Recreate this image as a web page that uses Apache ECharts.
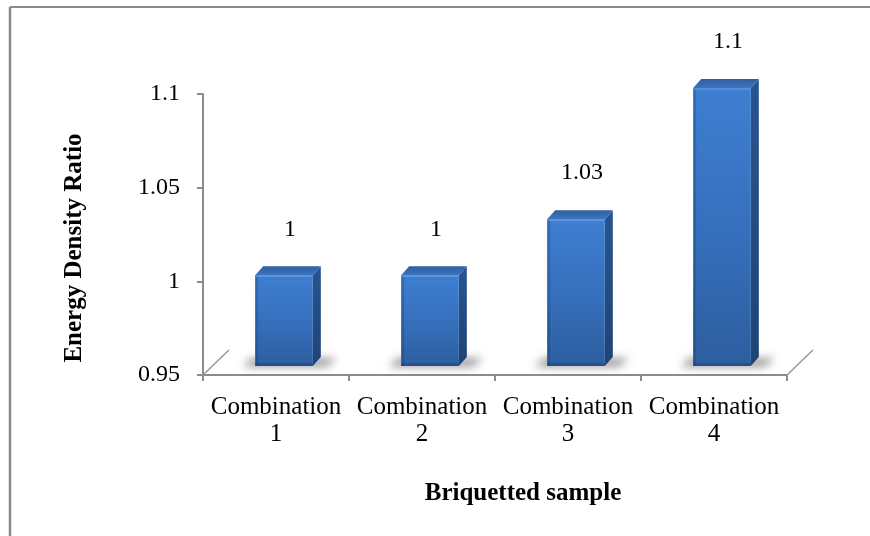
<!DOCTYPE html>
<html>
<head>
<meta charset="utf-8">
<style>
  html, body { margin: 0; padding: 0; background: #fff; }
  #chart { width: 870px; height: 536px; }
</style>
<script src="https://cdn.jsdelivr.net/npm/echarts@6/dist/echarts.min.js"></script>
</head>
<body>
<div id="chart"></div>
<script>
var categories = ['Combination 1', 'Combination 2', 'Combination 3', 'Combination 4'];
var ratioValues = [1, 1, 1.03, 1.1];
var yMin = 0.95;
var yMax = 1.1;
var yStep = 0.05;
var yAxisTitle = 'Energy Density Ratio';
var xAxisTitle = 'Briquetted sample';

var FONT = "'Liberation Serif', 'Times New Roman', serif";
var GRAY = '#8c8c8c';
var SHIFT = 1500;

var chart = echarts.init(document.getElementById('chart'), null, { renderer: 'canvas' });

function renderBar(params, api) {
  var i = api.value(0);
  var v = api.value(1);
  var topPt = api.coord([i, v]);
  var basePt = api.coord([i, yMin]);
  var band = api.size([1, 0])[0];
  var w = band * 0.395;
  var cx = topPt[0] + 8;
  var x0 = cx - w / 2, x1 = cx + w / 2;
  var yT = topPt[1] - 6, yB = basePt[1] - 9;
  var dx = 8, dy = 9;
  var children = [];

  // soft floor shadow (only the blurred shadow is visible; the shape itself sits off-canvas)
  children.push({
    type: 'polygon',
    shape: { points: [[x0 - 12 - SHIFT, yB + 1], [x1 + 14 - SHIFT, yB + 1], [x1 + 24 - SHIFT, yB - 8], [x0 - 4 - SHIFT, yB - 8]] },
    style: { fill: '#000', shadowBlur: 9, shadowOffsetX: SHIFT, shadowOffsetY: 0, shadowColor: 'rgba(0,0,0,0.38)' },
    silent: true
  });
  // side face
  children.push({
    type: 'polygon',
    shape: { points: [[x1, yT], [x1 + dx, yT - dy], [x1 + dx, yB - dy], [x1, yB]] },
    style: {
      fill: new echarts.graphic.LinearGradient(0, 0, 0, 1, [
        { offset: 0, color: '#28548f' },
        { offset: 1, color: '#1f4475' }
      ])
    }
  });
  // top face
  children.push({
    type: 'polygon',
    shape: { points: [[x0, yT], [x0 + dx, yT - dy], [x1 + dx, yT - dy], [x1, yT]] },
    style: {
      fill: new echarts.graphic.LinearGradient(0, 0, 0, 1, [
        { offset: 0, color: '#2f5f9f' },
        { offset: 1, color: '#3d74bf' }
      ])
    }
  });
  // front face
  children.push({
    type: 'rect',
    shape: { x: x0, y: yT, width: w, height: yB - yT },
    style: {
      fill: new echarts.graphic.LinearGradient(0, 0, 0, 1, [
        { offset: 0, color: '#3e7fd1' },
        { offset: 0.5, color: '#3670bd' },
        { offset: 1, color: '#2d5e9f' }
      ])
    }
  });
  // subtle left-edge and bottom shading
  children.push({
    type: 'rect',
    shape: { x: x0, y: yT, width: 3, height: yB - yT },
    style: { fill: 'rgba(20,50,100,0.25)' }
  });
  children.push({
    type: 'rect',
    shape: { x: x0, y: yB - 3, width: w, height: 3 },
    style: { fill: 'rgba(20,50,100,0.3)' }
  });
  // highlight at top front edge
  children.push({
    type: 'line',
    shape: { x1: x0 + 1, y1: yT + 1, x2: x1 - 1, y2: yT + 1 },
    style: { stroke: '#5b95de', lineWidth: 1.5 }
  });
  // value label
  children.push({
    type: 'text',
    x: cx + 6,
    y: yT - 46,
    style: {
      text: String(ratioValues[params.dataIndex]),
      fill: '#000',
      font: '24px ' + FONT,
      align: 'center',
      verticalAlign: 'middle'
    }
  });
  // floor depth lines at both ends of the axis
  if (params.dataIndex === 0) {
    var lx = basePt[0] - band / 2;
    children.push({
      type: 'line',
      shape: { x1: lx, y1: basePt[1], x2: lx + 26, y2: basePt[1] - 25 },
      style: { stroke: '#999', lineWidth: 1.5 }
    });
  }
  if (params.dataIndex === categories.length - 1) {
    var rx = basePt[0] + band / 2;
    children.push({
      type: 'line',
      shape: { x1: rx, y1: basePt[1], x2: rx + 26, y2: basePt[1] - 25 },
      style: { stroke: '#999', lineWidth: 1.5 }
    });
  }
  return { type: 'group', children: children };
}

var option = {
  animation: false,
  backgroundColor: '#fff',
  grid: { left: 203, right: 83, top: 94, bottom: 161, containLabel: false },
  xAxis: {
    type: 'category',
    data: categories,
    boundaryGap: true,
    axisLine: { show: true, lineStyle: { color: GRAY, width: 2 } },
    axisTick: { show: true, length: 6, lineStyle: { color: GRAY, width: 2 } },
    axisLabel: {
      interval: 0,
      margin: 19,
      color: '#000',
      fontFamily: FONT,
      fontSize: 25,
      lineHeight: 27,
      formatter: function (s) { return s.replace(' ', '\n'); }
    },
    splitLine: { show: false }
  },
  yAxis: {
    type: 'value',
    min: yMin,
    max: yMax,
    interval: yStep,
    axisLine: { show: true, lineStyle: { color: GRAY, width: 2 } },
    axisTick: { show: true, length: 6, lineStyle: { color: GRAY, width: 2 } },
    axisLabel: {
      margin: 23,
      color: '#000',
      fontFamily: FONT,
      fontSize: 24
    },
    splitLine: { show: false }
  },
  series: [{
    type: 'custom',
    renderItem: renderBar,
    data: ratioValues.map(function (v, i) { return [i, v]; }),
    encode: { x: 0, y: 1 },
    clip: false,
    z: 3
  }],
  graphic: [
    { type: 'line', shape: { x1: 10, y1: 7, x2: 870, y2: 7 }, style: { stroke: '#8a8a8a', lineWidth: 2 } },
    { type: 'line', shape: { x1: 10, y1: 7, x2: 10, y2: 536 }, style: { stroke: '#8a8a8a', lineWidth: 2.5 } },
    {
      type: 'text', x: 75, y: 248, rotation: Math.PI / 2,
      style: { text: yAxisTitle, fill: '#000', font: 'bold 25px ' + FONT, align: 'center', verticalAlign: 'middle' }
    },
    {
      type: 'text', x: 523, y: 494,
      style: { text: xAxisTitle, fill: '#000', font: 'bold 25px ' + FONT, align: 'center', verticalAlign: 'middle' }
    }
  ]
};

chart.setOption(option);
</script>
</body>
</html>
